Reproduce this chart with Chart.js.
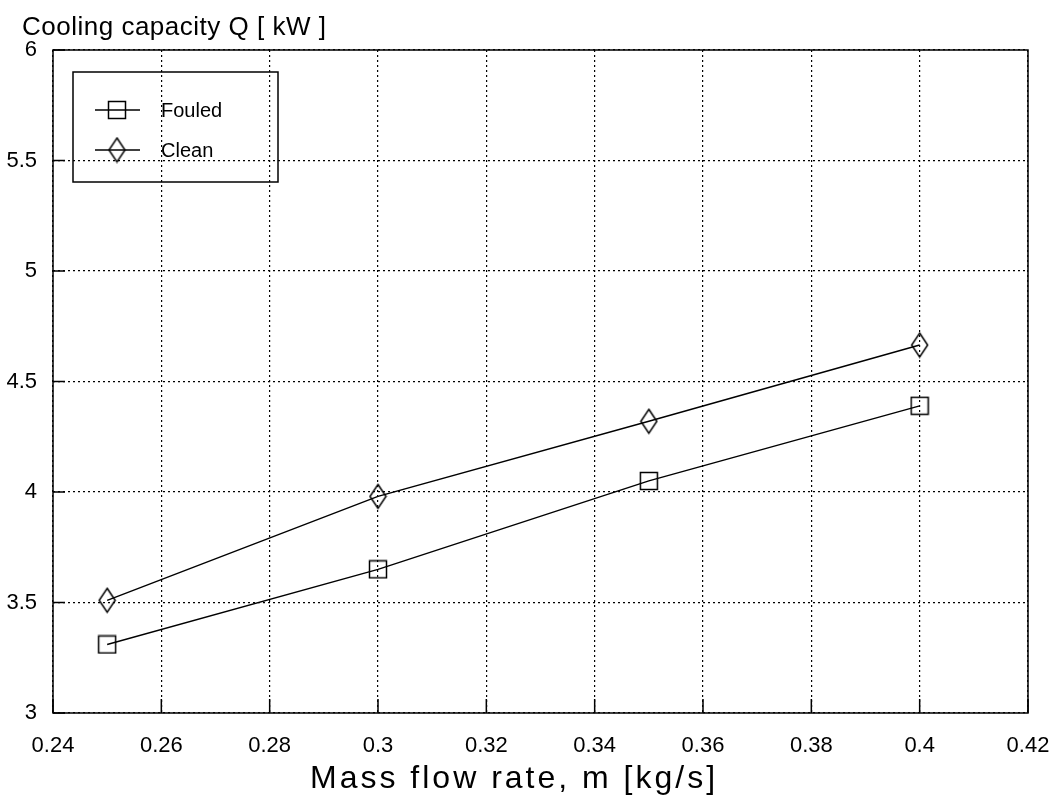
<!DOCTYPE html>
<html>
<head>
<meta charset="utf-8">
<script src="https://cdn.jsdelivr.net/npm/chart.js@4/dist/chart.umd.min.js"></script>
<style>
  html, body { margin: 0; padding: 0; background: #fff; }
  #wrap { width: 1058px; height: 802px; }
</style>
</head>
<body>
<div id="wrap"><canvas id="qChart" width="1058" height="802"></canvas></div>
<script>
// mass flow rate [kg/s]
const flowRates = [0.25, 0.3, 0.35, 0.4];
// cooling capacity [kW]
const fouledQ = [3.31, 3.65, 4.05, 4.39];
const cleanQ = [3.51, 3.98, 4.32, 4.665];

const seriesNames = ["Fouled", "Clean"];
const xTicks = [0.24, 0.26, 0.28, 0.3, 0.32, 0.34, 0.36, 0.38, 0.4, 0.42];
const yTicks = [3, 3.5, 4, 4.5, 5, 5.5, 6];

const FONT = "'Liberation Sans', Arial, sans-serif";

// hollow markers, drawn once and reused as point styles
function makeMarker(w, h, draw) {
  const c = document.createElement("canvas");
  c.width = w;
  c.height = h;
  const g = c.getContext("2d");
  g.strokeStyle = "#000";
  g.lineWidth = 1.5;
  draw(g, w, h);
  return c;
}
const squareMark = makeMarker(20, 20, (g) => g.strokeRect(1.5, 1.5, 17, 17));
const diamondMark = makeMarker(19, 27, (g, w, h) => {
  g.beginPath();
  g.moveTo(w / 2, 1.5);
  g.lineTo(w - 1.5, h / 2);
  g.lineTo(w / 2, h - 1.5);
  g.lineTo(1.5, h / 2);
  g.closePath();
  g.stroke();
});

// frame, inward ticks, titles and the boxed legend
const decorations = {
  id: "decorations",
  afterDraw(chart) {
    const { ctx, chartArea: a, scales } = chart;
    ctx.save();
    ctx.strokeStyle = "#000";
    ctx.lineWidth = 1.5;
    ctx.strokeRect(a.left, a.top, a.right - a.left, a.bottom - a.top);

    ctx.beginPath();
    xTicks.forEach((v) => {
      const px = scales.x.getPixelForValue(v);
      ctx.moveTo(px, a.bottom);
      ctx.lineTo(px, a.bottom - 14);
    });
    yTicks.forEach((v) => {
      const py = scales.y.getPixelForValue(v);
      ctx.moveTo(a.left, py);
      ctx.lineTo(a.left + 12, py);
    });
    ctx.stroke();

    ctx.fillStyle = "#000";
    ctx.textBaseline = "alphabetic";
    ctx.textAlign = "left";
    ctx.font = "26px " + FONT;
    ctx.letterSpacing = "0.5px";
    ctx.fillText("Cooling capacity Q [ kW ]", 22, 35);

    ctx.font = "32px " + FONT;
    ctx.letterSpacing = "3px";
    ctx.fillText("Mass flow rate, m [kg/s]", 310, 788);
    ctx.letterSpacing = "0px";

    // legend box
    ctx.lineWidth = 1.5;
    ctx.strokeRect(73, 72, 205, 110);
    const marks = [squareMark, diamondMark];
    ctx.font = "20px " + FONT;
    ctx.textBaseline = "middle";
    seriesNames.forEach((name, i) => {
      const ly = 110 + i * 40;
      ctx.beginPath();
      ctx.lineWidth = 1.3;
      ctx.moveTo(95, ly);
      ctx.lineTo(140, ly);
      ctx.stroke();
      const m = marks[i];
      ctx.drawImage(m, 117 - m.width / 2, ly - m.height / 2);
      ctx.fillText(name, 161, ly + 1);
    });
    ctx.restore();
  },
};

new Chart(document.getElementById("qChart"), {
  type: "line",
  data: {
    datasets: [
      {
        label: seriesNames[0],
        data: flowRates.map((x, i) => ({ x, y: fouledQ[i] })),
        borderColor: "#000",
        borderWidth: 1.4,
        pointStyle: squareMark,
        tension: 0,
      },
      {
        label: seriesNames[1],
        data: flowRates.map((x, i) => ({ x, y: cleanQ[i] })),
        borderColor: "#000",
        borderWidth: 1.4,
        pointStyle: diamondMark,
        tension: 0,
      },
    ],
  },
  options: {
    responsive: false,
    animation: false,
    layout: { padding: { top: 50, right: 30, left: 0, bottom: 0 } },
    plugins: {
      legend: { display: false },
      tooltip: { enabled: false },
      title: { display: false },
    },
    scales: {
      x: {
        type: "linear",
        min: 0.24,
        max: 0.42,
        afterBuildTicks: (s) => { s.ticks = xTicks.map((v) => ({ value: v })); },
        afterFit: (s) => {
          s.height = 89;
          s.paddingLeft = 0;
          s.paddingRight = 0;
        },
        ticks: {
          color: "#000",
          font: { family: FONT, size: 22 },
          padding: 20,
          maxRotation: 0,
          callback: (v) => String(+v.toFixed(2)),
        },
        grid: { color: "#000", lineWidth: 1.2, drawTicks: false },
        border: { display: false, dash: [2, 3] },
      },
      y: {
        min: 3,
        max: 6,
        afterBuildTicks: (s) => { s.ticks = yTicks.map((v) => ({ value: v })); },
        afterFit: (s) => {
          s.width = 53;
          s.paddingTop = 0;
          s.paddingBottom = 0;
        },
        ticks: {
          color: "#000",
          font: { family: FONT, size: 22 },
          padding: 16,
          callback: (v) => String(+v.toFixed(1)),
        },
        grid: { color: "#000", lineWidth: 1.2, drawTicks: false },
        border: { display: false, dash: [2, 3] },
      },
    },
  },
  plugins: [decorations],
});
</script>
</body>
</html>
